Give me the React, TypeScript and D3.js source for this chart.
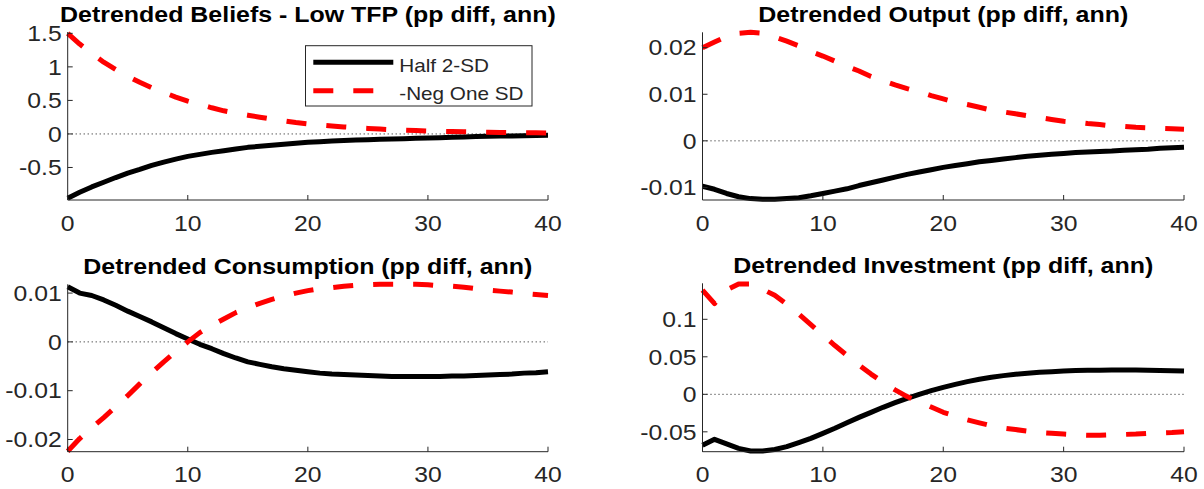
import React from "react";
import * as d3 from "d3";

// ---------------- data ----------------
const periods = [0,1,2,3,4,5,6,7,8,9,10,11,12,13,14,15,16,17,18,19,20,21,22,23,24,25,26,27,28,29,30,31,32,33,34,35,36,37,38,39,40];
const xTicks = [0, 10, 20, 30, 40];
const seriesNames = ["Half 2-SD", "-Neg One SD"];

const beliefsHalf2SD = [-0.96,-0.87,-0.79,-0.72,-0.65,-0.585,-0.53,-0.47,-0.42,-0.375,-0.335,-0.305,-0.275,-0.25,-0.225,-0.2,-0.185,-0.17,-0.155,-0.14,-0.125,-0.115,-0.107,-0.099,-0.092,-0.085,-0.08,-0.075,-0.07,-0.065,-0.06,-0.055,-0.05,-0.045,-0.04,-0.036,-0.032,-0.029,-0.026,-0.023,-0.02];
const beliefsNegOneSD = [1.5,1.34,1.2,1.07,0.96,0.86,0.77,0.69,0.62,0.55,0.49,0.44,0.39,0.345,0.31,0.28,0.25,0.22,0.195,0.17,0.15,0.135,0.12,0.105,0.092,0.082,0.072,0.063,0.056,0.05,0.044,0.04,0.036,0.032,0.029,0.026,0.023,0.021,0.019,0.017,0.015];

const outputHalf2SD = [-0.00975,-0.0104,-0.0113,-0.012,-0.0124,-0.01255,-0.01255,-0.0124,-0.0122,-0.0118,-0.0113,-0.0108,-0.0103,-0.0096,-0.009,-0.0084,-0.0078,-0.0072,-0.0067,-0.0062,-0.0057,-0.0053,-0.0049,-0.0045,-0.0042,-0.0039,-0.0036,-0.0033,-0.0031,-0.0029,-0.0027,-0.0025,-0.0024,-0.0023,-0.0022,-0.002,-0.0019,-0.0018,-0.0016,-0.0015,-0.0014];
const outputNegOneSD = [0.02,0.0212,0.0224,0.0231,0.0233,0.0231,0.0223,0.0214,0.0204,0.0192,0.0182,0.0171,0.016,0.015,0.0138,0.0129,0.012,0.0112,0.0105,0.0097,0.009,0.0083,0.0078,0.0072,0.0066,0.0062,0.0058,0.0054,0.005,0.0046,0.0042,0.004,0.0037,0.0035,0.0032,0.0031,0.0029,0.0028,0.0027,0.0026,0.0025];

const consumptionHalf2SD = [0.0113,0.01,0.0095,0.0086,0.0075,0.0063,0.0052,0.0041,0.0029,0.0017,0.0006,-0.0005,-0.0014,-0.0024,-0.0033,-0.0041,-0.0046,-0.0051,-0.0055,-0.0058,-0.0061,-0.0064,-0.0066,-0.0067,-0.0068,-0.0069,-0.007,-0.0071,-0.0071,-0.0071,-0.0071,-0.0071,-0.007,-0.007,-0.0069,-0.0068,-0.0067,-0.0066,-0.0064,-0.0063,-0.0061];
const consumptionNegOneSD = [-0.0224,-0.0198,-0.0176,-0.0155,-0.0133,-0.011,-0.0086,-0.0063,-0.0041,-0.002,0,0.0019,0.0034,0.0047,0.006,0.007,0.0079,0.0087,0.0094,0.01,0.0105,0.0109,0.0111,0.0114,0.0116,0.0117,0.0118,0.0118,0.0118,0.0118,0.0117,0.0115,0.0114,0.0112,0.0109,0.0106,0.0104,0.0102,0.0099,0.0097,0.0095];

const investmentHalf2SD = [-0.068,-0.06,-0.066,-0.072,-0.0755,-0.0755,-0.0735,-0.0698,-0.0644,-0.0587,-0.052,-0.0453,-0.0378,-0.0307,-0.024,-0.0173,-0.0111,-0.0053,0,0.0049,0.0093,0.0133,0.0169,0.02,0.0227,0.0249,0.0267,0.028,0.0293,0.0302,0.031,0.0316,0.032,0.0322,0.0324,0.0324,0.0323,0.0321,0.0318,0.0315,0.031];
const investmentNegOneSD = [0.139,0.121,0.139,0.147,0.147,0.14,0.132,0.12,0.107,0.093,0.079,0.065,0.052,0.039,0.027,0.016,0.006,-0.003,-0.01,-0.017,-0.024,-0.029,-0.034,-0.038,-0.042,-0.045,-0.047,-0.049,-0.051,-0.052,-0.053,-0.054,-0.0545,-0.0545,-0.054,-0.0535,-0.053,-0.052,-0.0515,-0.051,-0.05];

const titles = [
  "Detrended Beliefs - Low TFP (pp diff, ann)",
  "Detrended Output (pp diff, ann)",
  "Detrended Consumption (pp diff, ann)",
  "Detrended Investment (pp diff, ann)",
];
const yDomains = [[-0.985, 1.52], [-0.0127, 0.0233], [-0.0225, 0.0118], [-0.0765, 0.148]];
const yTicks = [[-0.5, 0, 0.5, 1, 1.5], [-0.01, 0, 0.01, 0.02], [-0.02, -0.01, 0, 0.01], [-0.05, 0, 0.05, 0.1]];
const yTickLabels = [["-0.5", "0", "0.5", "1", "1.5"], ["-0.01", "0", "0.01", "0.02"], ["-0.02", "-0.01", "0", "0.01"], ["-0.05", "0", "0.05", "0.1"]];
const half2SD = [beliefsHalf2SD, outputHalf2SD, consumptionHalf2SD, investmentHalf2SD];
const negOneSD = [beliefsNegOneSD, outputNegOneSD, consumptionNegOneSD, investmentNegOneSD];

// ---------------- layout ----------------
const W = 1204, H = 489;
const boxes = [
  { x0: 67.7, x1: 548, y0: 32, y1: 200 },
  { x0: 702.5, x1: 1184, y0: 32.3, y1: 200 },
  { x0: 67.7, x1: 548, y0: 284.3, y1: 451.7 },
  { x0: 702.5, x1: 1184, y0: 283.3, y1: 451.7 },
];
const SX = 1.15;
const FONT = "'Liberation Sans', Arial, Helvetica, sans-serif";
const AX = "#262626";
const LW = 5;

function T({ x, y, anchor = "start", size, weight = "normal", fill = AX, children }: any) {
  return (
    <text
      transform={`translate(${x},${y}) scale(${SX},1)`}
      textAnchor={anchor}
      fontSize={size}
      fontWeight={weight}
      fontFamily={FONT}
      fill={fill}
    >
      {children}
    </text>
  );
}

function Panel({ i }: { i: number }) {
  const b = boxes[i];
  const xs = d3.scaleLinear().domain([0, 40]).range([b.x0, b.x1]);
  const ys = d3.scaleLinear().domain(yDomains[i]).range([b.y1, b.y0]);
  const line = d3
    .line<number>()
    .x((_, k) => xs(periods[k]))
    .y((v) => ys(v));
  const tick = 5;
  return (
    <g>
      <line x1={xs(0)} x2={xs(40)} y1={ys(0)} y2={ys(0)} stroke="#111" strokeWidth={1} strokeDasharray="1,3" />
      <path d={line(half2SD[i]) || ""} fill="none" stroke="#000" strokeWidth={LW} strokeLinejoin="round" />
      <path d={line(negOneSD[i]) || ""} fill="none" stroke="#ff0000" strokeWidth={LW} strokeDasharray="20,20" strokeLinejoin="round" />
      <line x1={b.x0} x2={b.x1} y1={b.y1} y2={b.y1} stroke={AX} strokeWidth={1} />
      <line x1={b.x0} x2={b.x0} y1={b.y0} y2={b.y1} stroke={AX} strokeWidth={1} />
      {xTicks.map((t) => (
        <g key={"x" + t}>
          <line x1={xs(t)} x2={xs(t)} y1={b.y1} y2={b.y1 - tick} stroke={AX} strokeWidth={1} />
          <T x={xs(t)} y={b.y1 + 30.5} anchor="middle" size={21.5}>
            {String(t)}
          </T>
        </g>
      ))}
      {yTicks[i].map((v, k) => (
        <g key={"y" + k}>
          <line x1={b.x0} x2={b.x0 + tick} y1={ys(v)} y2={ys(v)} stroke={AX} strokeWidth={1} />
          <T x={b.x0 - 6} y={ys(v) + 7.7} anchor="end" size={21.5}>
            {yTickLabels[i][k]}
          </T>
        </g>
      ))}
      <T x={(b.x0 + b.x1) / 2} y={b.y0 - 10} anchor="middle" size={21.7} weight="bold" fill="#000">
        {titles[i]}
      </T>
    </g>
  );
}

function Legend() {
  const lx = 305.5, ly = 45.7, lw = 226.5, lh = 60.3;
  return (
    <g>
      <rect x={lx} y={ly} width={lw} height={lh} fill="#fff" stroke={AX} strokeWidth={1} />
      <line x1={313.3} x2={393.3} y1={62.3} y2={62.3} stroke="#000" strokeWidth={LW} />
      <line x1={313.3} x2={393.3} y1={90.7} y2={90.7} stroke="#ff0000" strokeWidth={LW} strokeDasharray="20,20" />
      <T x={399.3} y={71.5} size={18}>{seriesNames[0]}</T>
      <T x={399.3} y={100} size={18}>{seriesNames[1]}</T>
    </g>
  );
}

export default function App() {
  return (
    <svg width={W} height={H} style={{ position: "absolute", left: 0, top: 0, background: "#fff" }}>
      <rect x={0} y={0} width={W} height={H} fill="#fff" />
      {[0, 1, 2, 3].map((i) => (
        <Panel key={i} i={i} />
      ))}
      <Legend />
    </svg>
  );
}
